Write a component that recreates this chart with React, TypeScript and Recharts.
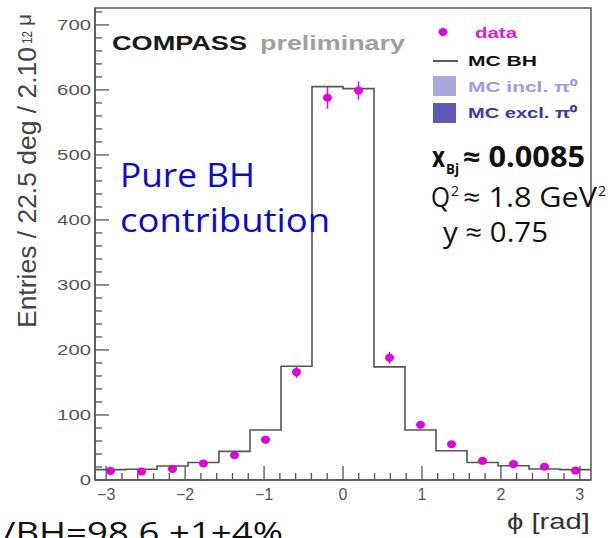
import {
  ComposedChart,
  Line,
  Scatter,
  ErrorBar,
  XAxis,
  YAxis,
  ReferenceArea,
} from "recharts";

// histogram bins, 22.5 deg wide
const binEdgesDeg = [
  -180, -157.5, -135, -112.5, -90, -67.5, -45, -22.5, 0, 22.5, 45, 67.5, 90,
  112.5, 135, 157.5, 180,
];
const mcBH = [16, 16.5, 21.5, 27, 44, 77, 175, 605, 602, 174, 77, 45, 27, 22, 17, 16];
const dataVals = [14, 13, 17, 25.5, 38, 62, 166, 588, 599, 188, 85, 55, 29.5, 24.5, 20.5, 14.5];
const dataErr = [3, 3, 3, 4, 5, 6, 9, 17, 14, 9, 6, 5, 4, 3, 3, 3];

const xTicks = [
  -3, -2.8, -2.6, -2.4, -2.2, -2, -1.8, -1.6, -1.4, -1.2, -1, -0.8, -0.6, -0.4,
  -0.2, 0, 0.2, 0.4, 0.6, 0.8, 1, 1.2, 1.4, 1.6, 1.8, 2, 2.2, 2.4, 2.6, 2.8, 3,
];
const yTicks = [
  0, 20, 40, 60, 80, 100, 120, 140, 160, 180, 200, 220, 240, 260, 280, 300, 320,
  340, 360, 380, 400, 420, 440, 460, 480, 500, 520, 540, 560, 580, 600, 620, 640,
  660, 680, 700, 720,
];

const rad = (d: number) => (d * Math.PI) / 180;

const stepData = binEdgesDeg.map((e, i) => ({
  x: rad(e),
  y: mcBH[Math.min(i, mcBH.length - 1)],
}));

const points = dataVals.map((v, i) => ({
  x: rad((binEdgesDeg[i] + binEdgesDeg[i + 1]) / 2),
  y: v,
  err: dataErr[i],
}));

const AXIS = "#555";
const ROOT_FONT = "'Liberation Sans', Arial, Helvetica, sans-serif";
const PPT_FONT = "'Open Sans', 'DejaVu Sans', sans-serif";

const isMajor = (v: number, step: number) =>
  Math.abs(v / step - Math.round(v / step)) < 1e-6;

const XTick = (props: any) => {
  const { x, y, payload } = props;
  const v = payload.value;
  const major = isMajor(v, 1);
  const label = v < 0 ? "\u2212" + Math.abs(Math.round(v)) : String(Math.round(v));
  return (
    <g>
      <line x1={x} x2={x} y1={y} y2={y - (major ? 14 : 7)} stroke={AXIS} strokeWidth={1.3} />
      {major && (
        <text x={x} y={y + 20} textAnchor="middle" fontSize={16} fill="#555" fontFamily={ROOT_FONT}>
          {label}
        </text>
      )}
    </g>
  );
};

const YTick = (props: any) => {
  const { x, y, payload } = props;
  const v = payload.value;
  const major = isMajor(v, 100);
  const label = String(v);
  return (
    <g>
      <line x1={x} x2={x + (major ? 14 : 7)} y1={y} y2={y} stroke={AXIS} strokeWidth={1.3} />
      {major && (
        <text
          x={x - 4}
          y={y + 5}
          textAnchor="end"
          fontSize={14}
          fill="#555"
          fontFamily={ROOT_FONT}
          textLength={label.length * 11.3}
          lengthAdjust="spacingAndGlyphs"
        >
          {label}
        </text>
      )}
    </g>
  );
};

const Dot = (p: any) => <ellipse cx={p.cx} cy={p.cy} rx={4.5} ry={4} fill="#e000e0" />;

function App() {
  return (
    <div style={{ position: "absolute", left: 0, top: 0, width: 612, height: 538, background: "#fff" }}>
      <ComposedChart width={612} height={538} margin={{ top: 8, right: 21, bottom: 0, left: 0 }}>
        <XAxis
          dataKey="x"
          type="number"
          domain={[-Math.PI, Math.PI]}
          ticks={xTicks}
          interval={0}
          height={58}
          tickSize={0}
          tickMargin={0}
          tickLine={false}
          tick={<XTick />}
          axisLine={{ stroke: AXIS, strokeWidth: 1.5 }}
          allowDataOverflow
        />
        <YAxis
          dataKey="y"
          type="number"
          domain={[0, 726]}
          ticks={yTicks}
          interval={0}
          width={95}
          tickSize={0}
          tickMargin={0}
          tickLine={false}
          tick={<YTick />}
          axisLine={{ stroke: AXIS, strokeWidth: 1.5 }}
          allowDataOverflow
        />
        <ReferenceArea
          x1={-Math.PI}
          x2={Math.PI}
          y1={0}
          y2={726}
          fill="none"
          stroke={AXIS}
          strokeWidth={1.5}
          fillOpacity={0}
        />
        <Line
          data={stepData}
          dataKey="y"
          type="stepAfter"
          stroke="#555"
          strokeWidth={1.6}
          dot={false}
          activeDot={false}
          isAnimationActive={false}
        />
        <Scatter data={points} dataKey="y" shape={<Dot />} isAnimationActive={false}>
          <ErrorBar dataKey="err" direction="y" width={0} stroke="#e000e0" strokeWidth={1.5} />
        </Scatter>
      </ComposedChart>

      <svg
        width={612}
        height={538}
        style={{ position: "absolute", left: 0, top: 0, pointerEvents: "none" }}
      >
        {/* y axis title */}
        <g fontFamily={ROOT_FONT} fill="#444">
          <text transform="translate(36,328) rotate(-90)" fontSize={25} textLength={281} lengthAdjust="spacingAndGlyphs">
            Entries / 22.5 deg / 2.10
          </text>
          <text transform="translate(32,44) rotate(-90)" fontSize={15} textLength={13} lengthAdjust="spacingAndGlyphs">
            12
          </text>
          <text transform="translate(31,26) rotate(-90)" fontSize={20} textLength={12} lengthAdjust="spacingAndGlyphs">
            μ
          </text>
        </g>

        {/* x axis title */}
        <text x={507} y={529} fontSize={22} fill="#333" fontFamily={ROOT_FONT} textLength={83} lengthAdjust="spacingAndGlyphs">
          ϕ [rad]
        </text>

        {/* COMPASS preliminary */}
        <text x={112} y={50} fontSize={21} fontWeight="bold" fill="#1a1a1a" fontFamily={ROOT_FONT} textLength={135} lengthAdjust="spacingAndGlyphs">
          COMPASS
        </text>
        <text x={260} y={50} fontSize={21} fontWeight="bold" fill="#a0a0a0" fontFamily={ROOT_FONT} textLength={145} lengthAdjust="spacingAndGlyphs">
          preliminary
        </text>

        {/* legend */}
        <g fontFamily={ROOT_FONT} fontWeight="bold" fontSize={15}>
          <ellipse cx={443} cy={32} rx={4.5} ry={4} fill="#e000e0" />
          <text x={475} y={38} fill="#d61ed6" textLength={42} lengthAdjust="spacingAndGlyphs">data</text>
          <line x1={433} x2={458} y1={61} y2={61} stroke="#222" strokeWidth={1.5} />
          <text x={468} y={66} fill="#111" textLength={69} lengthAdjust="spacingAndGlyphs">MC BH</text>
          <rect x={433} y={76} width={23} height={20} fill="#a8a8dc" />
          <text x={468} y={92} fill="#9c9ce0" textLength={109} lengthAdjust="spacingAndGlyphs">MC incl. π⁰</text>
          <rect x={433} y={103} width={23} height={20} fill="#5c5cb8" />
          <text x={468} y={118} fill="#3838b0" textLength={109} lengthAdjust="spacingAndGlyphs">MC excl. π⁰</text>
        </g>

        {/* kinematics */}
        <g fontFamily={PPT_FONT} fill="#111">
          <text x={432} y={167} fontSize={28} fontWeight="bold" textLength={13} lengthAdjust="spacingAndGlyphs">x</text>
          <text x={446} y={174} fontSize={15} fontWeight="bold" textLength={13} lengthAdjust="spacingAndGlyphs">Bj</text>
          <text x={463} y={167} fontSize={28} fontWeight="bold" textLength={122} lengthAdjust="spacingAndGlyphs">≈ 0.0085</text>
          <text x={431} y={207} fontSize={27} textLength={19} lengthAdjust="spacingAndGlyphs">Q</text>
          <text x={451} y={196} fontSize={15} textLength={8} lengthAdjust="spacingAndGlyphs">2</text>
          <text x={463} y={207} fontSize={27} textLength={134} lengthAdjust="spacingAndGlyphs">≈ 1.8 GeV</text>
          <text x={598} y={196} fontSize={15} textLength={8} lengthAdjust="spacingAndGlyphs">2</text>
          <text x={443} y={242} fontSize={27} textLength={105} lengthAdjust="spacingAndGlyphs">y ≈ 0.75</text>
        </g>

        {/* annotation */}
        <g fontFamily={PPT_FONT} fill="#0a0ad0" fontSize={32}>
          <text x={120} y={187} textLength={135} lengthAdjust="spacingAndGlyphs">Pure BH</text>
          <text x={120} y={232} textLength={210} lengthAdjust="spacingAndGlyphs">contribution</text>
        </g>

        <text x={2} y={543} fontSize={29} fill="#111" fontFamily={PPT_FONT} textLength={281} lengthAdjust="spacingAndGlyphs">
          /BH=98.6 ±1±4%
        </text>
      </svg>
    </div>
  );
}

export default App;
